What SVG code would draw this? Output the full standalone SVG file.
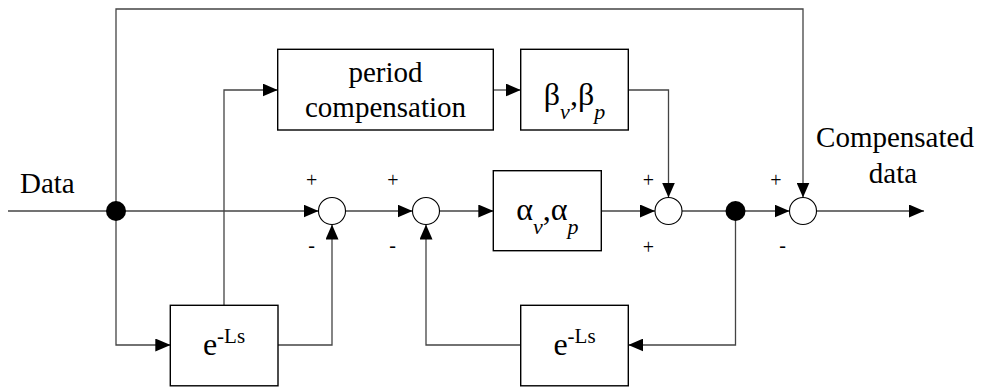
<svg xmlns="http://www.w3.org/2000/svg" width="983" height="387" viewBox="0 0 983 387">
<defs>
<style>
.box{fill:#fff;stroke:#000;stroke-width:1.4}
.sum{fill:#fff;stroke:#000;stroke-width:1.1}
.dot{fill:#000}
.wire{fill:none;stroke:#444;stroke-width:1.3}
text{font-family:'Liberation Serif','Times New Roman',serif;fill:#000}
.lbl{font-size:29px}
.sgn{font-size:20px;text-anchor:middle}
.math{font-size:32px;text-anchor:middle}
.sub{font-size:22px;font-style:italic}
.sup{font-size:21px}
</style>
<marker id="arr" markerUnits="userSpaceOnUse" markerWidth="15" markerHeight="13" refX="15" refY="6.5" orient="auto">
<path d="M0,0 L15,6.5 L0,13 z" fill="#000"/>
</marker>
</defs>
<rect width="983" height="387" fill="#fff"/>
<g id="connectors">
<path class="wire" d="M8 211 H318.5" marker-end="url(#arr)"/>
<path class="wire" d="M116 211 V9 H803 V197.5" marker-end="url(#arr)"/>
<path class="wire" d="M345.5 211 H412.5" marker-end="url(#arr)"/>
<path class="wire" d="M439.5 211 H493.3" marker-end="url(#arr)"/>
<path class="wire" d="M601.3 211 H655" marker-end="url(#arr)"/>
<path class="wire" d="M682 211 H789.5" marker-end="url(#arr)"/>
<path class="wire" d="M816.5 211 H924" marker-end="url(#arr)"/>
<path class="wire" d="M735.5 211 V345 H628.3" marker-end="url(#arr)"/>
<path class="wire" d="M520.7 345 H426 V224.5" marker-end="url(#arr)"/>
<path class="wire" d="M116 211 V345 H170.3" marker-end="url(#arr)"/>
<path class="wire" d="M278 345 H332 V224.5" marker-end="url(#arr)"/>
<path class="wire" d="M224 305.3 V90 H277.7" marker-end="url(#arr)"/>
<path class="wire" d="M493.3 90 H520.7" marker-end="url(#arr)"/>
<path class="wire" d="M628.3 90 H668.5 V197.5" marker-end="url(#arr)"/>
</g>
<g id="input-label"><text class="lbl" x="20" y="192.5">Data</text></g>
<g id="output-label">
<text class="lbl" x="895" y="146.7" text-anchor="middle">Compensated</text>
<text class="lbl" x="893" y="182.7" text-anchor="middle">data</text>
</g>
<g id="split1"><circle class="dot" cx="116" cy="211" r="10"/></g>
<g id="split2"><circle class="dot" cx="735.5" cy="211" r="10"/></g>
<g id="sum1">
<circle class="sum" cx="332" cy="211" r="13.5"/>
<text class="sgn" x="311.7" y="186.5">+</text>
<text class="sgn" x="311.7" y="252">-</text>
</g>
<g id="sum2">
<circle class="sum" cx="426" cy="211" r="13.5"/>
<text class="sgn" x="393" y="186.5">+</text>
<text class="sgn" x="392.5" y="252">-</text>
</g>
<g id="sum3">
<circle class="sum" cx="668.5" cy="211" r="13.5"/>
<text class="sgn" x="648.5" y="186.5">+</text>
<text class="sgn" x="648.5" y="254">+</text>
</g>
<g id="sum4">
<circle class="sum" cx="803" cy="211" r="13.5"/>
<text class="sgn" x="776" y="186.5">+</text>
<text class="sgn" x="782.7" y="252">-</text>
</g>
<g id="period-compensation">
<rect class="box" x="277.7" y="49.3" width="215.6" height="80.7"/>
<text class="lbl" x="385.5" y="81.7" text-anchor="middle">period</text>
<text class="lbl" x="385.5" y="116.7" text-anchor="middle">compensation</text>
</g>
<g id="beta">
<rect class="box" x="520.7" y="49.3" width="107.6" height="80.7"/>
<text class="math" x="574.5" y="105">β<tspan class="sub" dy="14">v</tspan><tspan dy="-14">,β</tspan><tspan class="sub" dy="14">p</tspan></text>
</g>
<g id="alpha">
<rect class="box" x="493.3" y="170.7" width="108" height="80"/>
<text class="math" x="547.3" y="220">α<tspan class="sub" dy="14">v</tspan><tspan dy="-14">,α</tspan><tspan class="sub" dy="14">p</tspan></text>
</g>
<g id="delay1">
<rect class="box" x="170.3" y="305.3" width="107.7" height="80.5"/>
<text class="math" x="224" y="355">e<tspan class="sup" dy="-12">-Ls</tspan></text>
</g>
<g id="delay2">
<rect class="box" x="520.7" y="305.3" width="107.6" height="80.5"/>
<text class="math" x="574.5" y="355">e<tspan class="sup" dy="-12">-Ls</tspan></text>
</g>
</svg>
